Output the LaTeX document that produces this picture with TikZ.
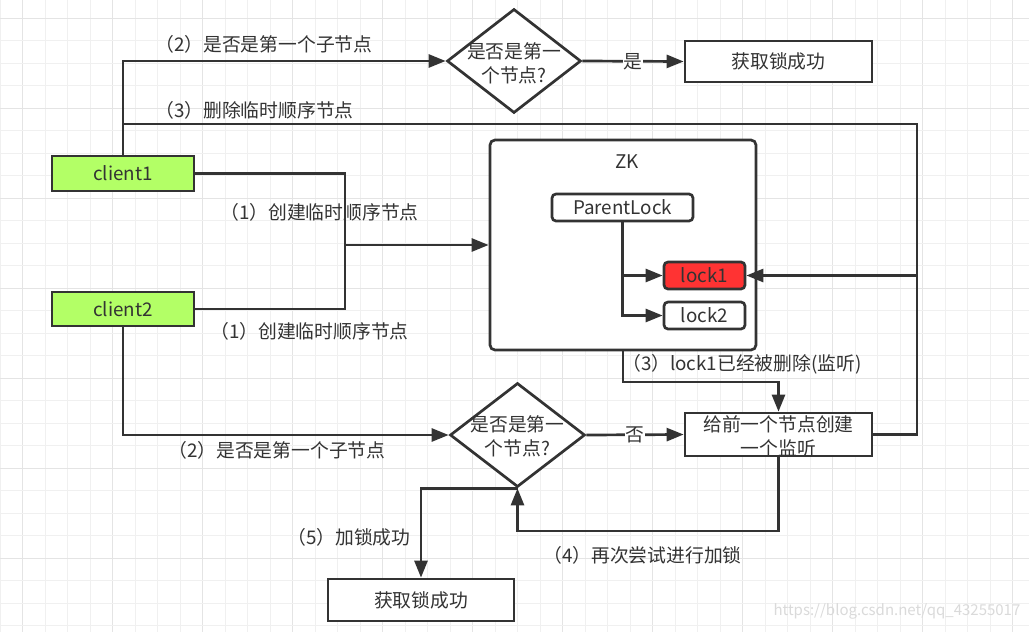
\documentclass[tikz,border=0pt]{standalone}
\usepackage{fontspec}
\setmainfont{Noto Sans CJK SC}
\usetikzlibrary{arrows.meta,shapes.geometric}
\definecolor{lc}{HTML}{333333}
\definecolor{gminor}{HTML}{F0F0F0}
\definecolor{gmajor}{HTML}{E4E4E4}
\definecolor{cgreen}{HTML}{B3FF66}
\definecolor{cred}{HTML}{FF3333}
\definecolor{wm}{HTML}{DADADA}
\tikzset{
  conn/.style={draw=lc, line width=2.7pt},
  arr/.style={conn, -{Triangle[length=17pt,width=13pt]}},
  fnt/.style={font=\fontsize{18.8}{24}\selectfont, text=lc},
  box/.style={fnt, draw=lc, line width=2.7pt, inner sep=0pt, align=center},
  dia/.style={draw=lc, line width=2.7pt, diamond, inner sep=0pt, fill=white},
  lbl/.style={fnt, inner sep=0pt, anchor=west},
  yn/.style={fnt, fill=white, inner sep=1pt},
}
\begin{document}
\begin{tikzpicture}[x=1pt,y=-1pt]
\useasboundingbox (0,0) rectangle (1029,632);
\fill[white] (0,0) rectangle (1029,632);
% grid
\foreach \i in {0,...,45} {
  \pgfmathsetmacro{\xx}{0.1+22.5*\i}
  \pgfmathtruncatemacro{\m}{mod(\i,4)}
  \ifnum\m=1
    \draw[gmajor, line width=1.2pt] (\xx,0) -- (\xx,632);
  \else
    \draw[gminor, line width=1.2pt] (\xx,0) -- (\xx,632);
  \fi
}
\foreach \i in {1,...,29} {
  \pgfmathsetmacro{\yy}{-4.2+22.5*\i}
  \pgfmathtruncatemacro{\m}{mod(\i,4)}
  \ifnum\m=1
    \draw[gmajor, line width=1.2pt] (0,\yy) -- (1029,\yy);
  \else
    \draw[gminor, line width=1.2pt] (0,\yy) -- (1029,\yy);
  \fi
}

% nodes
\node[box, fill=cgreen, minimum width=142pt, minimum height=35pt] (c1) at (123,173.5) {client1};
\node[box, fill=cgreen, minimum width=142pt, minimum height=34pt] (c2) at (123,309) {client2};
\node[box, fill=white, rounded corners=5pt, minimum width=266pt, minimum height=210pt] (zk) at (623,245) {};
\node[fnt, inner sep=0pt] (zkl) at (627,162) {ZK};
\node[box, fill=white, rounded corners=4pt, minimum width=141pt, minimum height=27pt] (pl) at (622.5,207.5) {ParentLock};
\node[box, fill=cred, rounded corners=4pt, minimum width=81pt, minimum height=27pt] (lock1) at (704.5,275.5) {lock1};
\node[box, fill=white, rounded corners=4pt, minimum width=81pt, minimum height=27pt] (lock2) at (704.5,315.5) {lock2};
\node[dia, minimum width=134pt, minimum height=104pt] (d1) at (514,61) {};
\node[fnt, align=center, inner sep=0pt] (d1t) at (514,63) {是否是第一\\个节点?};
\node[box, fill=white, minimum width=187pt, minimum height=41pt] (ok1) at (778.5,61.5) {获取锁成功};
\node[dia, minimum width=135pt, minimum height=104pt] (d2) at (517.5,435) {};
\node[fnt, align=center, inner sep=0pt] (d2t) at (517.5,436) {是否是第一\\个节点?};
\node[box, fill=white, minimum width=187pt, minimum height=43pt] (watch) at (778.5,434.5) {};
\node[fnt, align=center, inner sep=0pt] (watcht) at (778.5,436) {给前一个节点创建\\一个监听};
\node[box, fill=white, minimum width=186pt, minimum height=42pt] (ok2) at (421,600) {获取锁成功};

% coordinates
\coordinate (j3) at (123,124);
\coordinate (rtop) at (917,124);
\coordinate (rmid) at (917,275.5);
\coordinate (jm) at (345,245);
\coordinate (w3) at (778.5,382);
\coordinate (l4) at (778.5,531);

% connectors
\draw[arr] (c1.north) |- (d1.west);
\draw[arr] (j3) -- (rtop) |- (lock1.east);
\draw[conn] (watch.east) -| (rmid);
\draw[conn] (c1.east) -| (jm);
\draw[conn] (c2.east) -| (jm);
\draw[arr] (jm) -- (zk.west);
\draw[arr] (pl.south) |- (lock1.west);
\draw[arr] (pl.south) |- (lock2.west);
\draw[arr] (d1.east) -- node[yn] (yes) {是} (ok1.west);
\draw[arr] (zk.south) |- (w3) -- (watch.north);
\draw[arr] (c2.south) |- (d2.west);
\draw[arr] (d2.east) -- node[yn] (no) {否} (watch.west);
\draw[arr] (watch.south) -- (l4) -| (d2.south);
\draw[arr] (d2.south) -| (ok2.north);

% labels
\node[lbl] (t2a) at (155,44) {（2）是否是第一个子节点};
\node[lbl] (t3a) at (155,110) {（3）删除临时顺序节点};
\node[lbl] (t1a) at (220,212) {（1）创建临时顺序节点};
\node[lbl] (t1b) at (210,331) {（1）创建临时顺序节点};
\node[lbl] (t3b) at (622,364) {（3）lock1已经被删除(监听)};
\node[lbl] (t2b) at (168,450) {（2）是否是第一个子节点};
\node[lbl] (t5) at (287,537) {（5）加锁成功};
\node[lbl] (t4) at (543,555) {（4）再次尝试进行加锁};
\node[font=\fontsize{15}{18}\selectfont, text=wm, inner sep=0pt] (wmk) at (897,611) {https://blog.csdn.net/qq\_43255017};
\end{tikzpicture}
\end{document}
